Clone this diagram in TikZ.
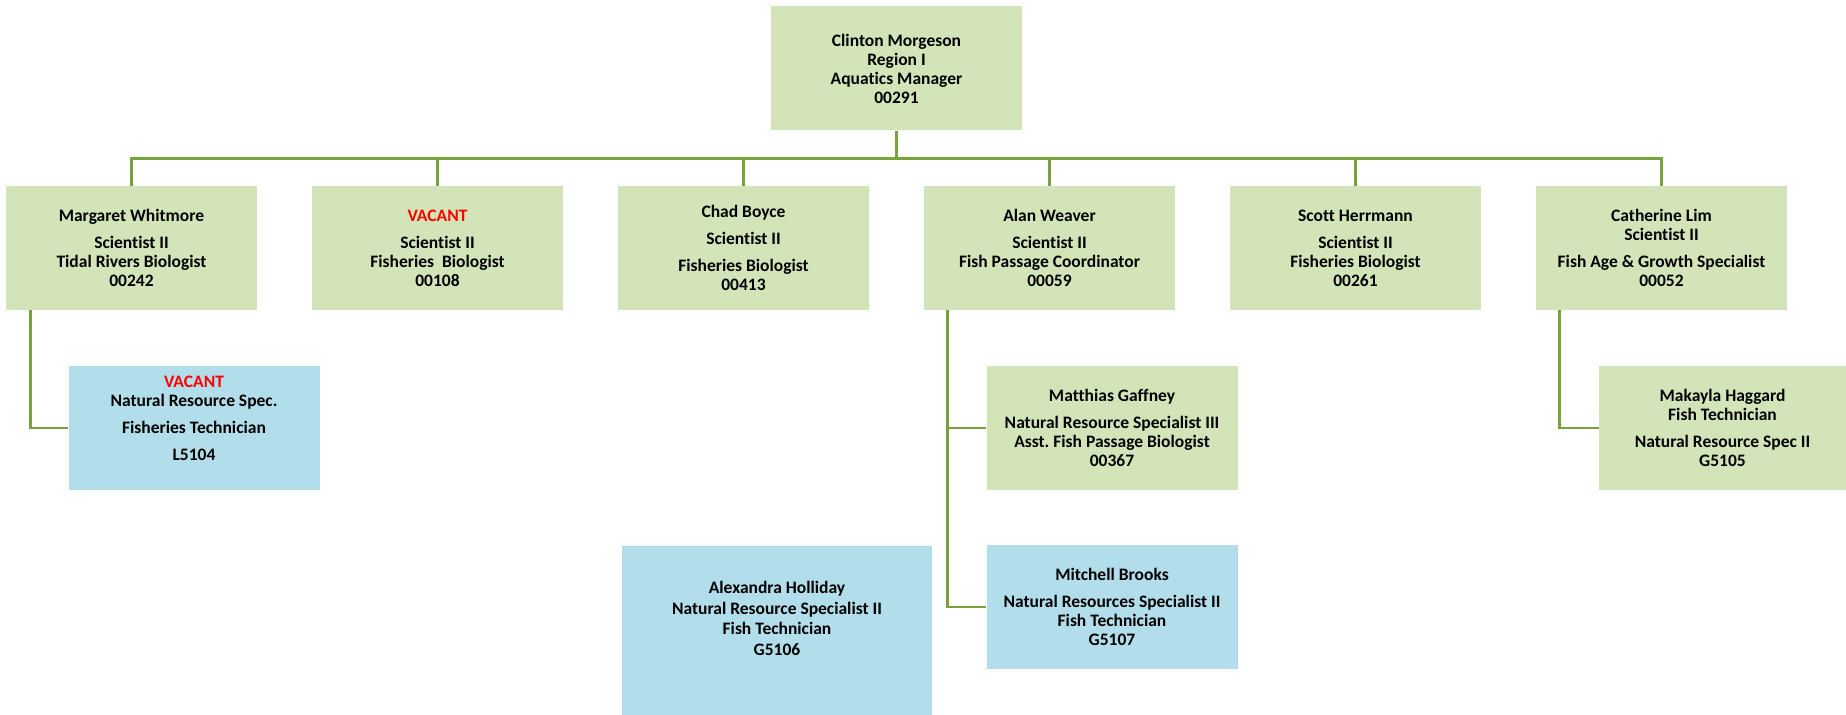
\documentclass[tikz,border=0pt]{standalone}
\usepackage{fontspec}
\setmainfont[Ligatures=NoCommon]{Carlito}
\frenchspacing
\definecolor{boxgreen}{RGB}{211,229,184}
\definecolor{boxblue}{RGB}{177,222,234}
\definecolor{linegreen}{RGB}{119,163,58}
\begin{document}
\begin{tikzpicture}[x=0.5pt,y=-0.5pt]
\tikzstyle{every node}+=[inner sep=0pt, align=center, font=\bfseries\fontsize{8.75}{9.5}\selectfont]
\tikzstyle{post}=[fill=boxgreen, minimum width=125.5pt, minimum height=62pt]
\tikzstyle{techpost}=[post, fill=boxblue]
\tikzstyle{link}=[draw=linegreen, line width=1.4pt]
\useasboundingbox (0,0) rectangle (1846,715);
\node [post] (morgeson) at (896.5,68.5) {Clinton Morgeson\\Region I\\Aquatics Manager\\00291};
\node [post] (whitmore) at (131.5,248) {Margaret Whitmore\\[3.9pt]Scientist II\\Tidal Rivers Biologist\\00242};
\node [post] (vacantsci) at (437.5,248) {\textcolor{red}{VACANT}\\[3.9pt]Scientist II\\Fisheries~~Biologist\\00108};
\node [post] (boyce) at (743.5,248) {Chad Boyce\\[3.9pt]Scientist II\\[3.9pt]Fisheries Biologist\\00413};
\node [post] (weaver) at (1049.5,248) {Alan Weaver\\[3.9pt]Scientist II\\Fish Passage Coordinator\\00059};
\node [post] (herrmann) at (1355.5,248) {Scott Herrmann\\[3.9pt]Scientist II\\Fisheries Biologist\\00261};
\node [post] (lim) at (1661.5,248) {Catherine Lim\\Scientist II\\[3.9pt]Fish Age \& Growth Specialist\\00052};
\node [techpost] (vacanttech) at (194,428) {\textcolor{red}{VACANT}\\Natural Resource Spec.\\[3.9pt]Fisheries Technician\\[3.9pt]L5104\rule[-9.7pt]{0pt}{0pt}};
\node [post] (gaffney) at (1112,428) {Matthias Gaffney\\[3.9pt]Natural Resource Specialist III\\Asst. Fish Passage Biologist\\00367};
\node [post, minimum width=123.5pt] (haggard) at (1722.5,428) {Makayla Haggard\\Fish Technician\\[3.9pt]Natural Resource Spec II\\G5105};
\node [techpost] (brooks) at (1112,607) {Mitchell Brooks\\[3.9pt]Natural Resources Specialist II\\Fish Technician\\G5107};
\node [techpost, minimum width=155pt, minimum height=84.5pt] (holliday) at (777,630.5) {Alexandra Holliday\\[0.8pt]Natural Resource Specialist II\\[0.8pt]Fish Technician\\[0.8pt]G5106\rule[-12.2pt]{0pt}{0pt}};
\foreach \n in {whitmore,vacantsci,boyce,weaver,herrmann,lim}
  \draw [link] (morgeson.south) -- +(0,28) -| (\n.north);
\draw [link] ([xshift=12.5pt]whitmore.south west) |- (vacanttech.west);
\draw [link] ([xshift=12pt]weaver.south west) |- (gaffney.west);
\draw [link] ([xshift=12pt]weaver.south west) |- (brooks.west);
\draw [link] ([xshift=12pt]lim.south west) |- (haggard.west);
\end{tikzpicture}
\end{document}
